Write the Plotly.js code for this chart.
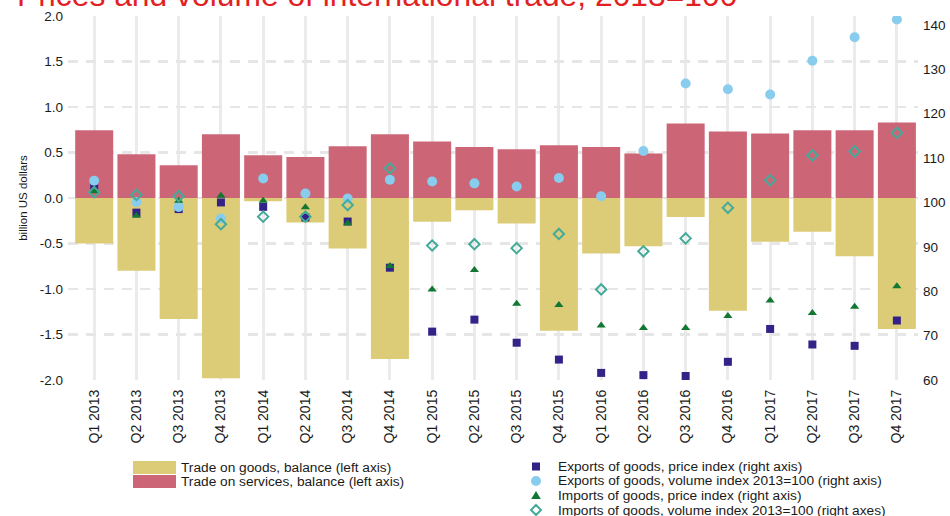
<!DOCTYPE html>
<html>
<head>
<meta charset="utf-8">
<script src="https://cdn.plot.ly/plotly-3.0.1.min.js"></script>
<style>
  html, body { margin: 0; padding: 0; background: #ffffff; }
  #chart { width: 950px; height: 516px; }
</style>
</head>
<body>
<div id="chart"></div>
<script>
// ---- Data ----
const quarters = ["Q1 2013","Q2 2013","Q3 2013","Q4 2013","Q1 2014","Q2 2014","Q3 2014","Q4 2014",
                  "Q1 2015","Q2 2015","Q3 2015","Q4 2015","Q1 2016","Q2 2016","Q3 2016","Q4 2016",
                  "Q1 2017","Q2 2017","Q3 2017","Q4 2017"];

// billion US dollars (left axis)
const goodsBalance    = [-0.50,-0.80,-1.33,-1.98,-0.035,-0.27,-0.555,-1.77,-0.26,-0.135,-0.28,-1.46,-0.61,-0.53,-0.21,-1.24,-0.48,-0.37,-0.64,-1.44];
const servicesBalance = [0.745,0.48,0.36,0.70,0.47,0.45,0.57,0.70,0.62,0.56,0.535,0.58,0.56,0.49,0.82,0.73,0.71,0.745,0.745,0.83];

// indices, 2013=100 (right axis)
const exportsPrice   = [103.6,97.7,98.5,100.0,99.0,96.6,95.7,85.3,70.9,73.6,68.4,64.6,61.6,61.1,60.9,64.1,71.5,68.0,67.7,73.4];
const exportsVolume  = [104.9,100.1,99.0,96.4,105.4,102.0,100.9,105.1,104.7,104.3,103.6,105.5,101.4,111.6,126.8,125.5,124.3,131.9,137.2,141.2];
const importsPrice   = [102.5,97.0,100.4,101.5,100.4,98.9,95.3,85.7,80.4,84.8,77.2,76.9,72.3,71.7,71.7,74.4,77.9,75.1,76.5,81.1];
const importsVolume  = [102.3,101.7,101.4,95.1,96.8,96.8,99.4,107.7,90.3,90.6,89.7,92.9,80.4,89.0,91.9,98.8,105.0,110.6,111.5,115.7];

// tick labels
const leftTickVals  = [-2,-1.5,-1,-0.5,0,0.5,1,1.5,2];
const leftTickText  = ["-2.0","-1.5","-1.0","-0.5","0.0","0.5","1.0","1.5","2.0"];
const rightTickVals = [60,70,80,90,100,110,120,130,140];

const seriesNames = [
  "Trade on goods, balance (left axis)",
  "Trade on services, balance (left axis)",
  "Exports of goods, price index (right axis)",
  "Exports of goods, volume index 2013=100 (right axis)",
  "Imports of goods, price index (right axis)",
  "Imports of goods, volume index 2013=100 (right axes)"
];
const titleText = "Prices and volume of international trade, 2013=100";

// ---- Styles ----
const C = {
  goods: "#DDCC77", services: "#CC6677",
  expPrice: "#332288", expVol: "#88CCEE", impPrice: "#117733", impVol: "#44AA99",
  title: "#e31f26", text: "#1a1a1a", vgrid: "#ebebeb", hgrid: "#e6e6e6"
};
const FONT = "Liberation Sans, Arial, Helvetica, sans-serif";

const traces = [
  { type: "bar", name: seriesNames[0], x: quarters, y: goodsBalance, marker: { color: C.goods }, yaxis: "y", hoverinfo: "x+y" },
  { type: "bar", name: seriesNames[1], x: quarters, y: servicesBalance, marker: { color: C.services }, yaxis: "y", hoverinfo: "x+y" },
  { type: "scatter", mode: "markers", name: seriesNames[2], x: quarters, y: exportsPrice, yaxis: "y2",
    marker: { symbol: "square", size: 8, color: C.expPrice } },
  { type: "scatter", mode: "markers", name: seriesNames[3], x: quarters, y: exportsVolume, yaxis: "y2",
    marker: { symbol: "circle", size: 10, color: C.expVol } },
  { type: "scatter", mode: "markers", name: seriesNames[4], x: quarters, y: importsPrice, yaxis: "y2",
    marker: { symbol: "triangle-up", size: 8, color: C.impPrice } },
  { type: "scatter", mode: "markers", name: seriesNames[5], x: quarters, y: importsVolume, yaxis: "y2",
    marker: { symbol: "diamond-open", size: 8, color: C.impVol, line: { width: 2, color: C.impVol } } }
];

// ---- Manual legend (two columns, tight rows) ----
const PL = 68, PR = 918, PT = 16, PB = 380;
const px2x = p => (p - PL) / (PR - PL);
const py2y = p => (PB - p) / (PB - PT);

const legendCol1 = [
  { name: seriesNames[0], color: C.goods, y: 467.5 },
  { name: seriesNames[1], color: C.services, y: 481.5 }
];
const legendCol2 = [
  { name: seriesNames[2], kind: "square", color: C.expPrice, y: 466.5 },
  { name: seriesNames[3], kind: "circle", color: C.expVol, y: 481 },
  { name: seriesNames[4], kind: "triangle", color: C.impPrice, y: 495.5 },
  { name: seriesNames[5], kind: "diamond", color: C.impVol, y: 510 }
];

const shapes = [];
const annotations = [];
const LEGFONT = { family: FONT, size: 13.7, color: C.text };
legendCol1.forEach(it => {
  shapes.push({ type: "rect", xref: "paper", yref: "paper",
    x0: px2x(133), x1: px2x(176), y0: py2y(it.y + 6.5), y1: py2y(it.y - 6.5),
    fillcolor: it.color, line: { width: 0 } });
  annotations.push({ xref: "paper", yref: "paper", x: px2x(179), y: py2y(it.y), xanchor: "left", yanchor: "middle",
    showarrow: false, text: it.name, font: LEGFONT });
});
legendCol2.forEach(it => {
  const base = { xref: "paper", yref: "paper", xsizemode: "pixel", ysizemode: "pixel",
    xanchor: px2x(536), yanchor: py2y(it.y) };
  if (it.kind === "square") shapes.push(Object.assign({}, base, { type: "rect", x0: -4, x1: 4, y0: -4, y1: 4, fillcolor: it.color, line: { width: 0 } }));
  if (it.kind === "circle") shapes.push(Object.assign({}, base, { type: "circle", x0: -5, x1: 5, y0: -5, y1: 5, fillcolor: it.color, line: { width: 0 } }));
  if (it.kind === "triangle") shapes.push(Object.assign({}, base, { type: "path", path: "M-4.8,-3.6 L4.8,-3.6 L0,4.6 Z", fillcolor: it.color, line: { width: 0 } }));
  if (it.kind === "diamond") shapes.push(Object.assign({}, base, { type: "path", path: "M0,-5 L5,0 L0,5 L-5,0 Z", fillcolor: "rgba(0,0,0,0)", line: { width: 2, color: it.color } }));
  annotations.push({ xref: "paper", yref: "paper", x: px2x(556), y: py2y(it.y), xanchor: "left", yanchor: "middle",
    showarrow: false, text: it.name, font: LEGFONT });
});

const layout = {
  width: 950, height: 516,
  margin: { l: PL, r: 950 - PR, t: PT, b: 516 - PB, pad: 0 },
  paper_bgcolor: "#ffffff", plot_bgcolor: "#ffffff",
  font: { family: FONT, size: 13.5, color: C.text },
  title: { text: titleText, font: { family: FONT, size: 31.8, color: C.title },
           xref: "container", yref: "container", x: 17 / 950, xanchor: "left", y: 1 - 5.5 / 516, yanchor: "bottom" },
  barmode: "relative", bargap: 0.1,
  showlegend: false,
  xaxis: {
    type: "category", categoryorder: "array", categoryarray: quarters,
    range: [-0.62, 19.5],
    tickangle: -90, tickfont: { family: FONT, size: 14, color: C.text }, ticklabelstandoff: 6,
    showgrid: true, gridcolor: C.vgrid, gridwidth: 3,
    showline: false, zeroline: false, ticks: "", automargin: false
  },
  yaxis: {
    range: [-2, 2], tickvals: leftTickVals, ticktext: leftTickText,
    tickfont: { family: FONT, size: 13.5, color: C.text }, ticklabelstandoff: 4,
    showgrid: true, gridcolor: C.hgrid, gridwidth: 2.5, griddash: "10px,8px",
    zeroline: false, showline: false, ticks: "", automargin: false,
    title: { text: "billion US dollars", font: { family: FONT, size: 11.5, color: C.text }, standoff: 9 }
  },
  yaxis2: {
    overlaying: "y", side: "right", range: [60, 142], tickvals: rightTickVals,
    tickfont: { family: FONT, size: 13.5, color: C.text }, ticklabelstandoff: 4,
    showgrid: false, zeroline: false, showline: false, ticks: "", automargin: false
  },
  shapes: shapes,
  annotations: annotations
};

Plotly.newPlot("chart", traces, layout, { displayModeBar: false, staticPlot: true });
</script>
</body>
</html>
